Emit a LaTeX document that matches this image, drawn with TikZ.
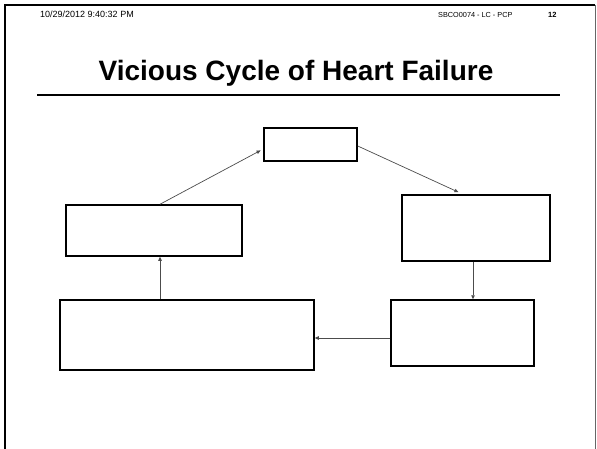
\documentclass[tikz,border=0pt]{standalone}
\usepackage{fontspec}
\setmainfont{Liberation Sans}
\usetikzlibrary{arrows.meta}
\begin{document}
\begin{tikzpicture}[x=1pt,y=-1pt,
  cyclebox/.style={draw=black,line width=1.5pt,fill=white,inner sep=0pt},
  link/.style={draw=black!70,line width=0.7pt,-{Triangle[length=4pt,width=3.5pt]}},
  hdr/.style={inner sep=0pt,anchor=base west}]
\useasboundingbox (0,0) rectangle (597,449);
\fill[white] (0,0) rectangle (597,449);

% page frame
\draw[line width=2pt,black] (5,449) -- (5,5) -- (595,5);
\draw[line width=1pt,black!60] (595,5) -- (595,449);

% header line
\node[hdr,font=\fontsize{9}{10}\selectfont] (date) at (40,18) {10/29/2012 9:40:32 PM};
\node[hdr,font=\fontsize{7.3}{9}\selectfont] (code) at (438,18) {SBCO0074 - LC - PCP};
\node[hdr,font=\fontsize{7.5}{9}\selectfont\bfseries] (page) at (548,18) {12};

% title and rule
\node[font=\fontsize{28}{32}\selectfont\bfseries,inner sep=0pt,anchor=base] (title) at (296,81) {Vicious Cycle of Heart Failure};
\draw[line width=2pt] (37,95) -- (560,95);

% cycle boxes
\node[cyclebox,minimum width=93pt,minimum height=33pt] (T) at (310.5,144.5) {};
\node[cyclebox,minimum width=176pt,minimum height=51pt] (L) at (154,230.5) {};
\node[cyclebox,minimum width=148pt,minimum height=66pt] (R) at (476,228) {};
\node[cyclebox,minimum width=143pt,minimum height=66pt] (BR) at (462.5,333) {};
\node[cyclebox,minimum width=254pt,minimum height=70pt] (BL) at (187,335) {};

% connectors
\draw[link,shorten >=3pt] ([xshift=6pt]L.north) -- ([yshift=-4.5pt]T.west);
\draw[link,shorten >=5pt] ([yshift=-1.5pt]T.east) -- ([xshift=-13pt]R.north);
\draw[link] ([xshift=-3pt]R.south) -- ([xshift=-3pt]R.south |- BR.north);
\draw[link] ([yshift=-5pt]BR.west) -- ([yshift=-5pt]BR.west -| BL.east);
\draw[link] ([xshift=-27pt]BL.north) -- ([xshift=-27pt]BL.north |- L.south);
\end{tikzpicture}
\end{document}
